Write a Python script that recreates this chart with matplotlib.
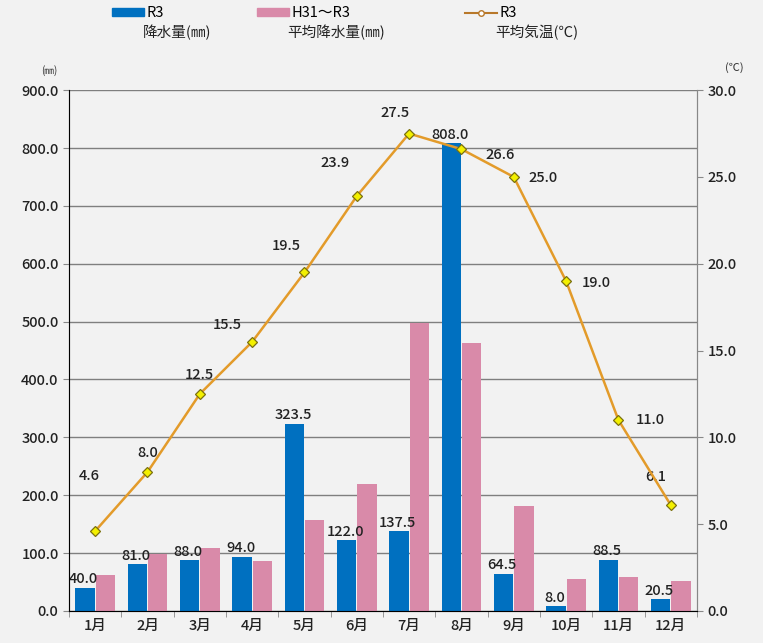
import numpy as np
import matplotlib
matplotlib.use('Agg')
import matplotlib.pyplot as plt
from matplotlib.patches import Patch
from matplotlib.lines import Line2D

plt.rcParams['font.family'] = ['Noto Sans CJK JP', 'DejaVu Sans']

months = ['1月', '2月', '3月', '4月', '5月', '6月', '7月', '8月', '9月', '10月', '11月', '12月']
rain_r3 = [40.0, 81.0, 88.0, 94.0, 323.5, 122.0, 137.5, 808.0, 64.5, 8.0, 88.5, 20.5]
rain_avg = [63, 99, 108, 86, 158, 220, 497, 463, 181, 56, 59, 52]
temp_r3 = [4.6, 8.0, 12.5, 15.5, 19.5, 23.9, 27.5, 26.6, 25.0, 19.0, 11.0, 6.1]

left_ticks = np.arange(0, 901, 100)
right_ticks = np.arange(0, 30.1, 5)

# label offsets for temperature values (points)
temp_offsets = [(-4, 40), (0, 14), (0, 14), (-18, 12), (-13, 19), (-16, 24), (-10, 15),
                (28, -4), (21, -1), (22, -1), (23, 0), (-11, 20)]

bg = '#F2F2F2'
blue = '#0070C0'
pink = '#D98AA9'
orange = '#E39B2A'
txt = '#222222'

fig = plt.figure(figsize=(7.63, 6.43), dpi=100, facecolor=bg)
ax = fig.add_axes([0.0904, 0.0498, 0.823, 0.810], facecolor=bg)

x = np.arange(len(months))
w = 0.37
ax.bar(x - 0.195, rain_r3, width=w, color=blue, zorder=3)
ax.bar(x + 0.195, rain_avg, width=w, color=pink, zorder=3)

for xi, v in zip(x, rain_r3):
    ax.annotate(f'{v:.1f}', (xi - 0.22, v), xytext=(0, 1), textcoords='offset points',
                ha='center', va='bottom', fontsize=10.5, fontweight='medium', color=txt, zorder=6)

ax.set_xlim(-0.5, 11.5)
ax.set_ylim(0, 900)
ax.set_yticks(left_ticks)
ax.set_yticklabels([f'{t:.1f}' for t in left_ticks], fontweight='medium')
ax.set_xticks(x)
ax.set_xticklabels(months, fontweight='medium')
ax.set_xticks(np.arange(-0.5, 12, 1), minor=True)
ax.tick_params(axis='x', which='major', length=0, labelsize=10.5, pad=6, labelcolor=txt)
ax.tick_params(axis='x', which='minor', length=4, color='#888888')
ax.tick_params(axis='y', length=4, color='#888888', labelsize=10.5, labelcolor=txt)
ax.grid(axis='y', color='#7F7F7F', linewidth=1, zorder=0)
ax.spines['top'].set_visible(False)
for s in ['left', 'right', 'bottom']:
    ax.spines[s].set_color('#888888')

ax2 = ax.twinx()
ax2.set_ylim(0, 30)
ax2.set_yticks(right_ticks)
ax2.set_yticklabels([f'{t:.1f}' for t in right_ticks], fontweight='medium')
ax2.tick_params(axis='y', length=4, color='#888888', labelsize=10.5, labelcolor=txt)
ax2.spines['top'].set_visible(False)
ax2.spines['right'].set_color('#888888')
ax2.plot(x, temp_r3, color=orange, linewidth=1.8, marker='D', markersize=5.5,
         markerfacecolor='#F3F000', markeredgecolor='#7A7010', markeredgewidth=0.9, zorder=5)
for xi, v, off in zip(x, temp_r3, temp_offsets):
    ax2.annotate(f'{v:.1f}', (xi, v), xytext=off, textcoords='offset points',
                 ha='center', va='center', fontsize=10.5, fontweight='medium', color=txt)

fig.text(0.065, 0.885, '(㎜)', fontsize=7, ha='center', color='#333333')
fig.text(0.963, 0.890, '(℃)', fontsize=8, ha='center', color='#333333')

# legend: three single entries, placed separately
entries = [
    (Patch(color=blue), 'R3', 0.143, '降水量(㎜)', 0.187),
    (Patch(color=pink), 'H31～R3', 0.333, '平均降水量(㎜)', 0.377),
    (Line2D([], [], color='#B8782A', marker='o', markersize=4, markerfacecolor='white',
            linewidth=1.5), 'R3', 0.606, '平均気温(℃)', 0.649),
]
for h, lab, lx, sub, sx in entries:
    fig.legend([h], [lab], loc='upper left', bbox_to_anchor=(lx, 0.995), frameon=False,
               fontsize=10.5, borderpad=0.2, borderaxespad=0, handlelength=2.2,
               handleheight=0.45, handletextpad=0.15)
    fig.text(sx, 0.950, sub, fontsize=10.5, ha='left', va='center', color=txt)

fig.savefig('out.png', dpi=100, facecolor=bg)
